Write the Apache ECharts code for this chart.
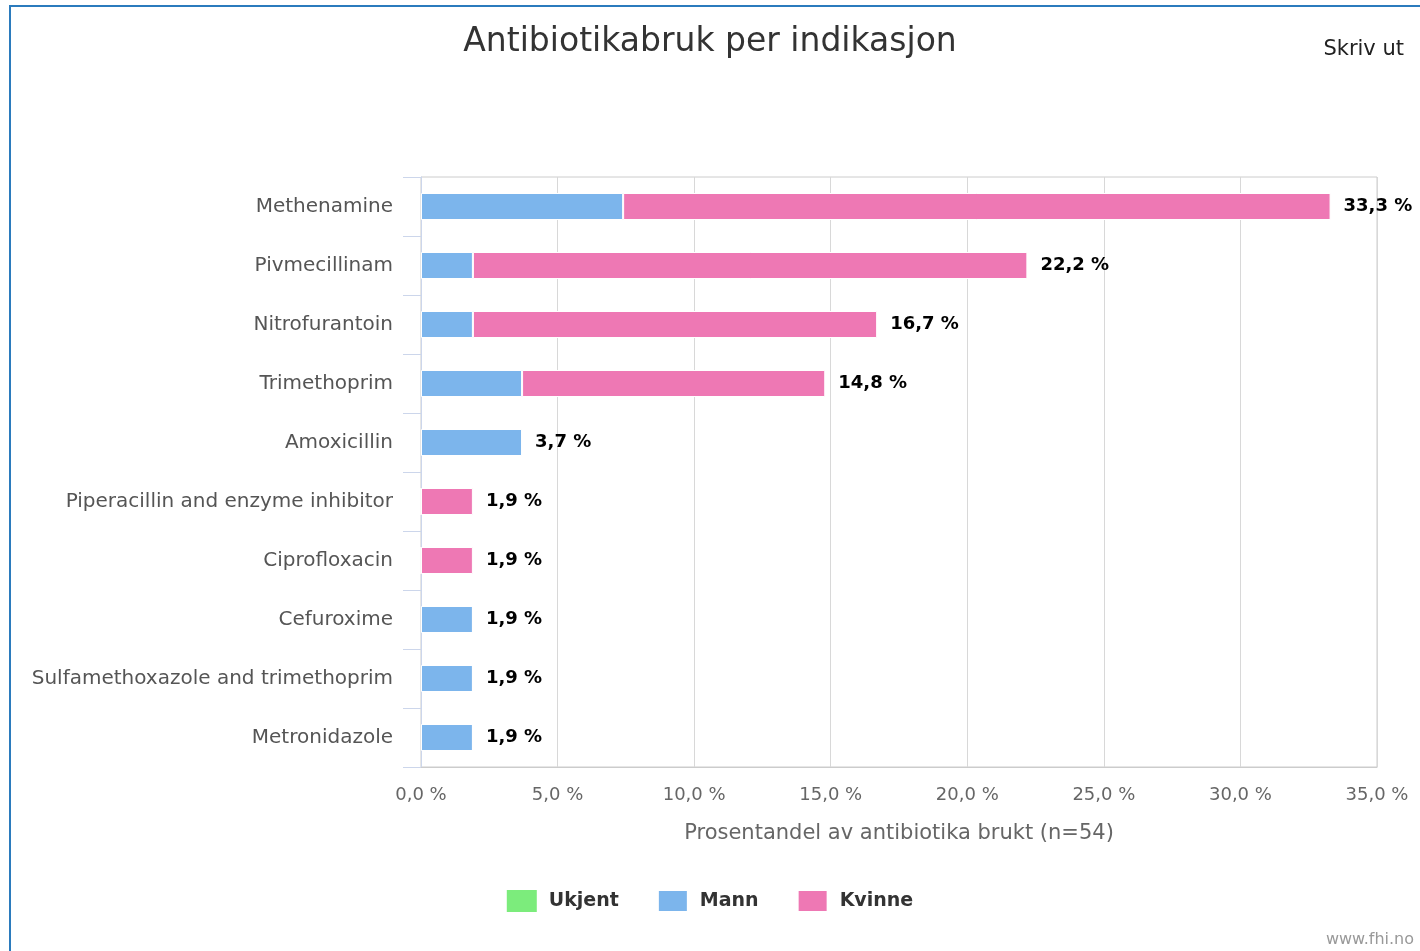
<!DOCTYPE html>
<html>
<head>
<meta charset="utf-8">
<script src="https://cdn.jsdelivr.net/npm/echarts@6/dist/echarts.min.js"></script>
<style>
  html, body { margin: 0; padding: 0; background: #fff; overflow: hidden; }
  #frame { position: absolute; left: 9px; top: 5px; width: 2000px; height: 2000px;
           border-top: 2px solid #2b7bbd; border-left: 2px solid #2b7bbd; pointer-events: none; }
  #main { position: absolute; left: 0; top: 0; width: 1420px; height: 951px; }
</style>
</head>
<body>
<div id="main"></div>
<div id="frame"></div>
<script>
// kategorier, ovenfra og ned
var categories = ['Methenamine', 'Pivmecillinam', 'Nitrofurantoin', 'Trimethoprim', 'Amoxicillin',
  'Piperacillin and enzyme inhibitor', 'Ciprofloxacin', 'Cefuroxime',
  'Sulfamethoxazole and trimethoprim', 'Metronidazole'];
// prosent per kjønn
var mann   = [7.4, 1.9, 1.9, 3.7, 3.7, 0, 0, 1.9, 1.9, 1.9];
var kvinne = [25.9, 20.3, 14.8, 11.1, 0, 1.9, 1.9, 0, 0, 0];
var ukjent = [0, 0, 0, 0, 0, 0, 0, 0, 0, 0];
var totals = [33.3, 22.2, 16.7, 14.8, 3.7, 1.9, 1.9, 1.9, 1.9, 1.9];
var xTicks = [0, 5, 10, 15, 20, 25, 30, 35];

var FONT = '"DejaVu Sans", Verdana, sans-serif';
function pct(v) { return v.toFixed(1).replace('.', ',') + ' %'; }

var myChart = echarts.init(document.getElementById('main'));
myChart.setOption({
  animation: false,
  textStyle: { fontFamily: FONT },
  title: {
    text: 'Antibiotikabruk per indikasjon',
    left: 'center', top: 21,
    textStyle: { fontFamily: FONT, fontSize: 33, fontWeight: 'normal', color: '#333' }
  },
  graphic: [
    { type: 'text', right: 16, top: 39,
      style: { text: 'Skriv ut', fontFamily: FONT, fontSize: 21, fill: '#222' } },
    { type: 'text', right: 6, top: 932,
      style: { text: 'www.fhi.no', fontFamily: FONT, fontSize: 16, fill: '#999' } }
  ],
  legend: {
    data: ['Ukjent', 'Mann', 'Kvinne'],
    top: 884, left: 'center',
    itemWidth: 30, itemHeight: 22, itemGap: 38,
    icon: 'rect',
    textStyle: { fontFamily: FONT, fontSize: 19, fontWeight: 'bold', color: '#333', padding: [0, 0, 0, 7] }
  },
  grid: { left: 421, right: 43, top: 177, bottom: 184, show: true, borderColor: '#ccc', borderWidth: 1 },
  xAxis: {
    type: 'value', min: xTicks[0], max: xTicks[xTicks.length - 1], interval: 5,
    name: 'Prosentandel av antibiotika brukt (n=54)',
    nameLocation: 'middle', nameGap: 56,
    nameTextStyle: { fontFamily: FONT, fontSize: 21, color: '#666' },
    axisLine: { show: true, lineStyle: { color: '#ccc' } },
    axisTick: { show: false },
    axisLabel: { formatter: pct, fontFamily: FONT, fontSize: 18, color: '#666', margin: 19 },
    splitLine: { lineStyle: { color: '#d8d8d8' } }
  },
  yAxis: {
    type: 'category', data: categories, inverse: true,
    axisLine: { show: true, lineStyle: { color: '#ccd6eb' } },
    axisTick: { show: true, length: 18, lineStyle: { color: '#ccd6eb' } },
    axisLabel: { fontFamily: FONT, fontSize: 20, color: '#555', margin: 28 }
  },
  series: [
    { name: 'Mann', type: 'bar', stack: 'tot', data: mann, barWidth: 27,
      itemStyle: { color: '#7cb5ec', borderColor: '#fff', borderWidth: 1 } },
    { name: 'Kvinne', type: 'bar', stack: 'tot', data: kvinne, barWidth: 27,
      itemStyle: { color: '#ee78b4', borderColor: '#fff', borderWidth: 1 } },
    { name: 'Ukjent', type: 'bar', stack: 'tot', data: ukjent, barWidth: 27,
      itemStyle: { color: '#7cec7c' },
      label: {
        show: true, position: 'right', distance: 13,
        formatter: function (p) { return pct(totals[p.dataIndex]); },
        fontFamily: FONT, fontSize: 18, fontWeight: 'bold', color: '#000'
      } }
  ]
});
</script>
</body>
</html>
